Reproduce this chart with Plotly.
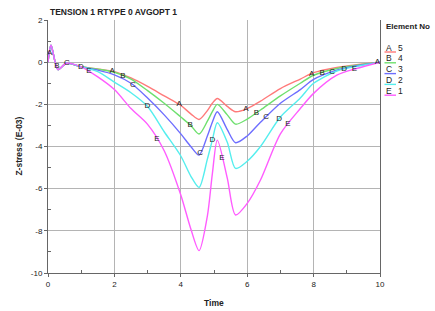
import numpy as np
import plotly.graph_objects as go

time = [0, 0.09, 0.3, 0.55, 1.0, 1.5, 2.0, 2.5, 3.0, 3.5, 4.0, 4.3, 4.55, 4.8, 4.95,
        5.1, 5.4, 5.65, 6.0, 6.4, 7.0, 7.6, 8.0, 8.7, 9.3, 10]

elem5 = [0, 0.8, -0.35, -0.05, -0.22, -0.32, -0.45, -0.75, -1.15, -1.6, -2.05, -2.45, -2.72,
         -2.3, -1.95, -1.72, -2.1, -2.35, -2.2, -1.85, -1.25, -0.8, -0.5, -0.25, -0.12, 0.0]
elem4 = [0, 0.8, -0.35, -0.05, -0.22, -0.33, -0.48, -0.8, -1.35, -1.95, -2.6, -3.0, -3.41,
         -2.8, -2.35, -2.0, -2.5, -2.94, -2.7, -2.27, -1.6, -1.0, -0.62, -0.3, -0.14, 0.0]
elem3 = [0, 0.8, -0.35, -0.05, -0.22, -0.38, -0.6, -1.0, -1.7, -2.5, -3.4, -4.0, -4.41,
         -3.5, -2.85, -2.35, -3.2, -3.82, -3.5, -2.85, -1.95, -1.3, -0.82, -0.38, -0.17, 0.0]
elem2 = [0, 0.8, -0.35, -0.05, -0.22, -0.45, -0.95, -1.45, -2.1, -3.3, -4.45, -5.4, -5.94,
         -4.6, -3.7, -2.87, -3.8, -5.04, -4.7, -4.0, -2.6, -1.7, -1.0, -0.42, -0.2, 0.0]
elem1 = [0, 0.8, -0.35, -0.05, -0.22, -0.7, -1.3, -2.2, -2.95, -4.2, -6.3, -7.9, -8.94,
         -7.3, -5.3, -3.7, -5.5, -7.25, -6.7, -5.59, -3.4, -2.2, -1.48, -0.62, -0.3, 0.0]

series = [("A", "5", elem5, "#ff7a7a"),
          ("B", "4", elem4, "#6ee06e"),
          ("C", "3", elem3, "#6e6eff"),
          ("D", "2", elem2, "#55eeee"),
          ("E", "1", elem1, "#ff5cff")]

label_times = {
    "A": [0.05, 1.93, 3.95, 5.96, 7.94, 9.92],
    "B": [0.27, 2.26, 4.28, 6.28, 8.26],
    "C": [0.57, 2.56, 4.58, 6.57, 8.56],
    "D": [0.99, 2.99, 4.95, 6.96, 8.92],
    "E": [1.23, 3.28, 5.24, 7.23, 9.23],
}

x_ticks = [0, 2, 4, 6, 8, 10]
y_ticks = [-10, -8, -6, -4, -2, 0, 2]

FONT = "Liberation Sans, Arial, sans-serif"

fig = go.Figure()
for letter, num, vals, color in series:
    fig.add_trace(go.Scatter(x=time, y=vals, mode="lines",
                             line=dict(color=color, width=1.4, shape="spline", smoothing=0.8),
                             hoverinfo="skip", showlegend=False))
for letter, num, vals, color in series:
    lt = label_times[letter]
    ly = list(np.interp(lt, time, vals))
    fig.add_trace(go.Scatter(x=lt, y=ly, mode="text", text=[letter] * len(lt),
                             textfont=dict(family=FONT, size=8, color="#222"),
                             textposition="middle center", showlegend=False,
                             hoverinfo="skip", cliponaxis=False))

axis_common = dict(showgrid=True, gridcolor="#b4b4b4", gridwidth=1, zeroline=False,
                   showline=True, linecolor="#666", linewidth=1,
                   ticks="outside", ticklen=3, tickcolor="#666",
                   tickfont=dict(family=FONT, size=8, color="#222"))

fig.update_xaxes(range=[0, 10], tickvals=x_ticks, ticktext=[str(v) for v in x_ticks],
                 minor=dict(tickvals=[1, 3, 5, 7, 9], ticks="inside", ticklen=3,
                            tickcolor="#666", showgrid=False),
                 **axis_common)
fig.update_yaxes(range=[-10, 2], tickvals=y_ticks, ticktext=[str(v) for v in y_ticks],
                 mirror=True,
                 minor=dict(tickvals=[-9, -7, -5, -3, -1, 1], ticks="inside", ticklen=3,
                            tickcolor="#666", showgrid=False),
                 **axis_common)

ann = []
ann.append(dict(text="<b>TENSION 1 RTYPE 0 AVGOPT 1</b>", xref="paper", yref="paper",
                x=0.0, y=1.032, xanchor="left", yanchor="middle", showarrow=False,
                font=dict(family=FONT, size=8.5, color="#222")))
ann.append(dict(text="<b>Z-stress (E-03)</b>", xref="paper", yref="paper",
                x=-0.09, y=0.5, xanchor="center", yanchor="middle", textangle=-90,
                showarrow=False, font=dict(family=FONT, size=8.5, color="#222")))
ann.append(dict(text="<b>Time</b>", xref="paper", yref="paper",
                x=0.5, y=-0.118, xanchor="center", yanchor="middle",
                showarrow=False, font=dict(family=FONT, size=8.5, color="#222")))
ann.append(dict(text="<b>Element No</b>", xref="paper", yref="paper",
                x=1.012, y=0.976, xanchor="left", yanchor="middle",
                showarrow=False, font=dict(family=FONT, size=8, color="#222")))

shapes = []
W, H, L, B = 332.0, 253.0, 48.0, 273.0
for i, (letter, num, vals, color) in enumerate(series):
    py = 47.5 + i * 10.8
    yp = (B - py) / H
    ann.append(dict(text=letter, xref="paper", yref="paper", x=(389.5 - L) / W, y=yp,
                    xanchor="center", yanchor="middle", showarrow=False,
                    font=dict(family=FONT, size=8.5, color="#222")))
    ann.append(dict(text=num, xref="paper", yref="paper", x=(401 - L) / W, y=yp,
                    xanchor="center", yanchor="middle", showarrow=False,
                    font=dict(family=FONT, size=8.5, color="#222")))
    uy = (B - (py + 4.5)) / H
    shapes.append(dict(type="line", xref="paper", yref="paper",
                       x0=(384.5 - L) / W, x1=(396 - L) / W, y0=uy, y1=uy,
                       line=dict(color=color, width=1.4)))

fig.update_layout(width=435, height=311, margin=dict(l=48, r=55, t=20, b=38),
                  paper_bgcolor="white", plot_bgcolor="white",
                  annotations=ann, shapes=shapes, showlegend=False,
                  font=dict(family=FONT))

fig.write_html("out.html", config={"displayModeBar": False},
               post_script="document.body.style.margin='0';document.body.style.overflow='hidden';")
